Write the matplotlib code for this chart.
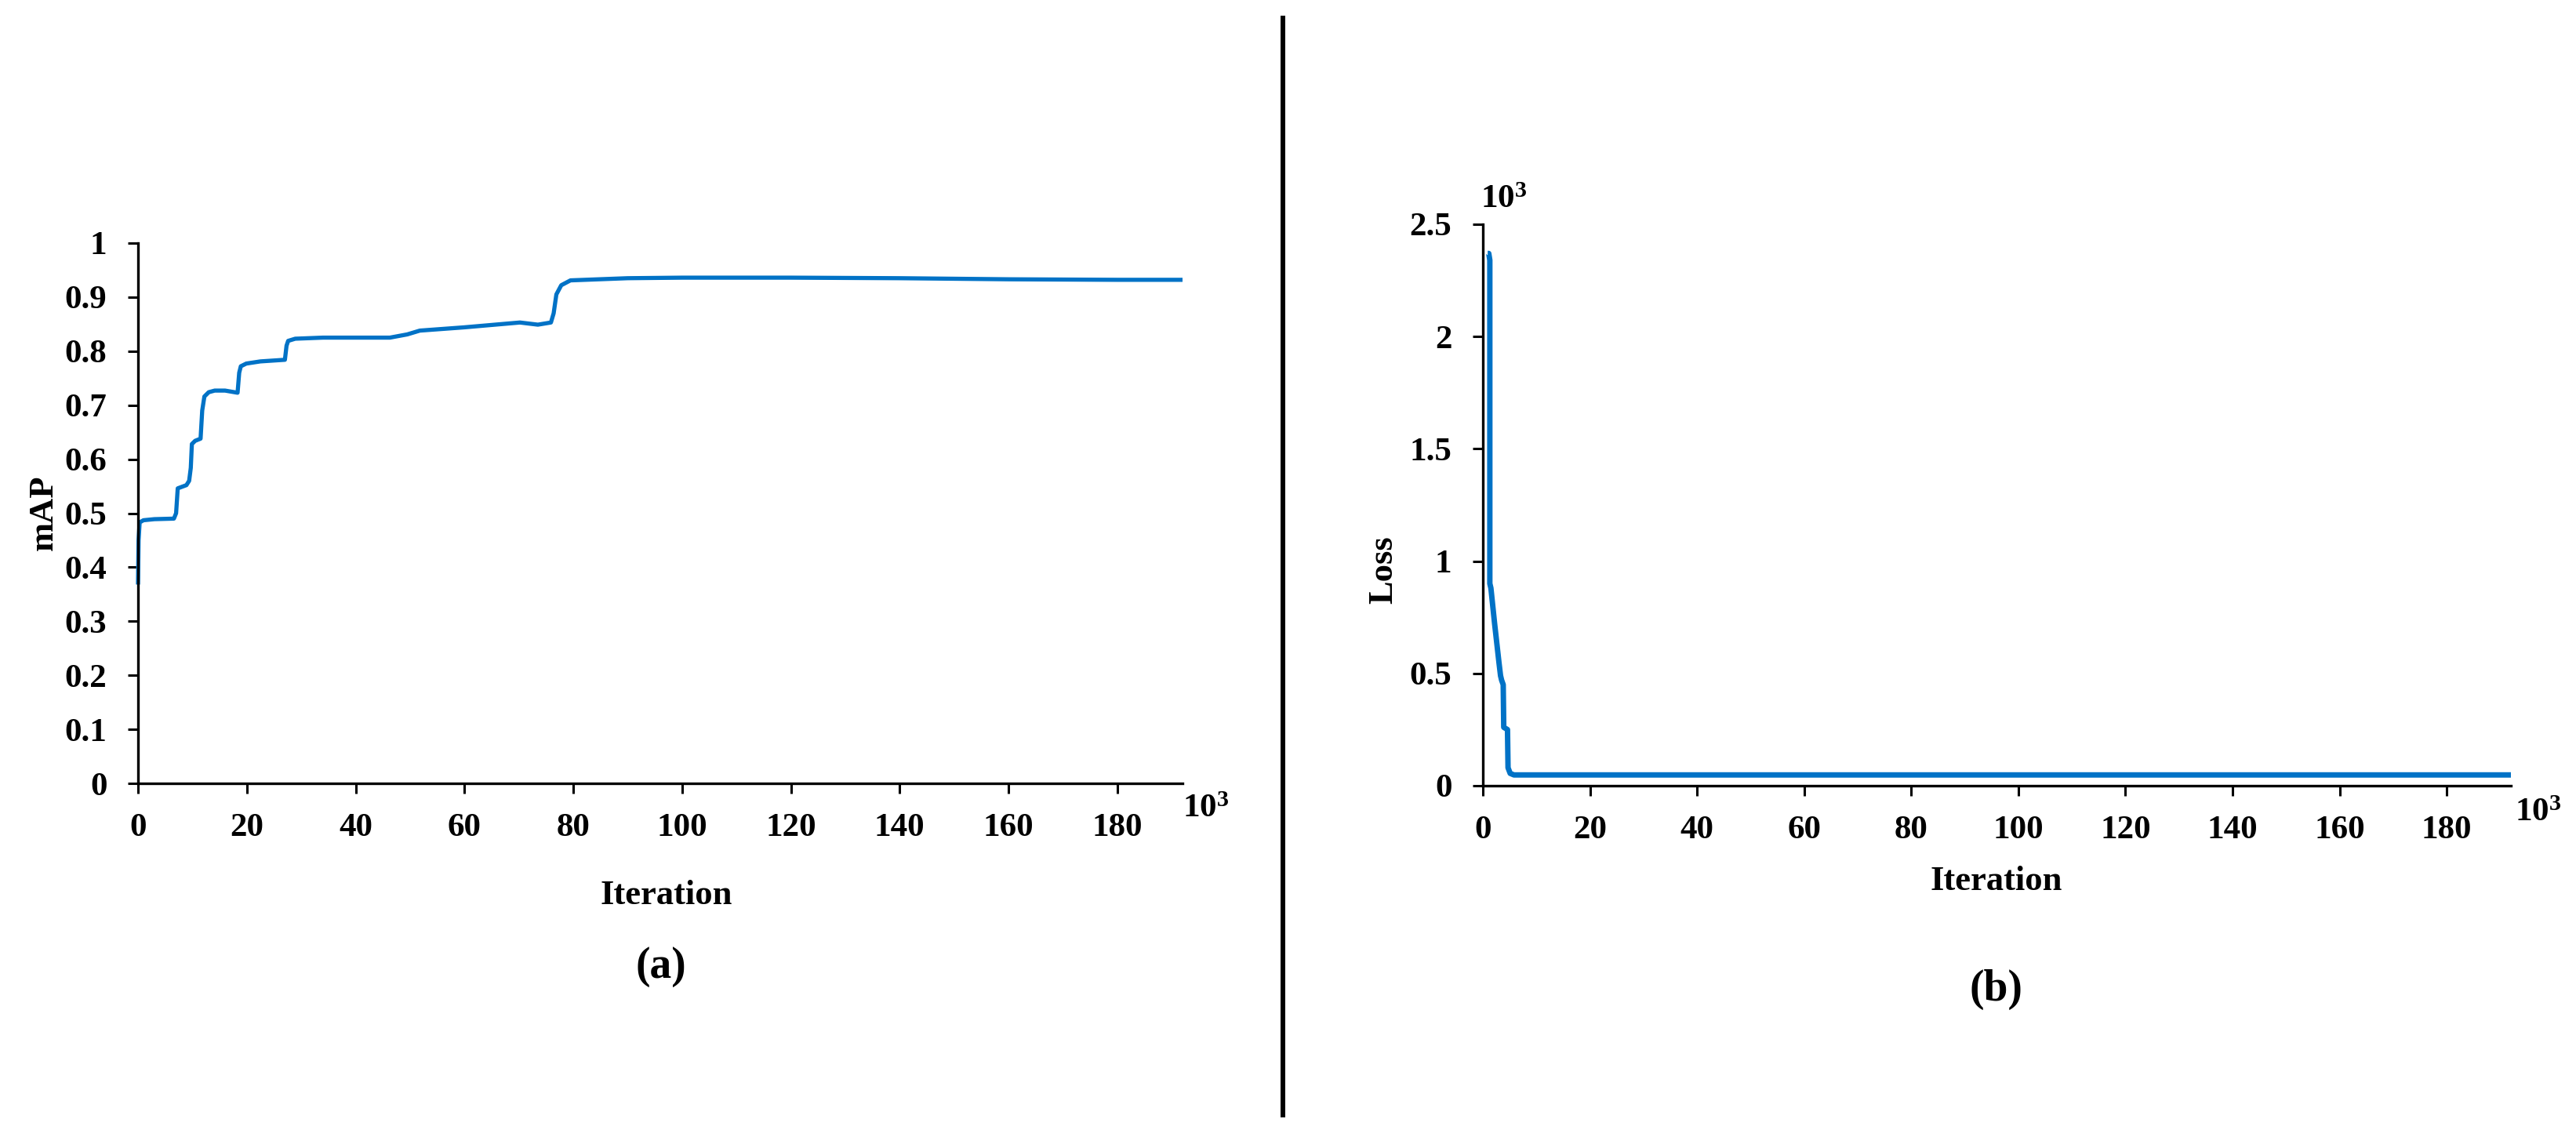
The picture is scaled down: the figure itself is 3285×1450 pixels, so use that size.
import matplotlib
matplotlib.use("Agg")
import matplotlib.pyplot as plt
from matplotlib.lines import Line2D
from matplotlib.ticker import FuncFormatter

# mAP curve, iteration in thousands
map_iter = [0, 0.1, 0.3, 1, 3, 6.6, 7.0, 7.3, 8.9, 9.4, 9.7, 9.9, 10.5, 11.5,
            11.8, 12.2, 13, 14.1, 16, 18.3, 18.6, 18.9, 19.9, 22.5, 27.0, 27.3,
            27.6, 28.9, 34, 46.3, 49.5, 51.8, 59.9, 70.2, 73.5, 75.9, 76.4,
            76.9, 77.8, 79.5, 90, 100, 120, 140, 160, 180, 192]
map_val = [0.368, 0.45, 0.483, 0.487, 0.489, 0.49, 0.50, 0.546, 0.552, 0.56,
           0.584, 0.628, 0.634, 0.638, 0.69, 0.716, 0.724, 0.727, 0.727, 0.723,
           0.76, 0.772, 0.777, 0.781, 0.784, 0.81, 0.819, 0.823, 0.825, 0.825,
           0.831, 0.838, 0.844, 0.853, 0.849, 0.853, 0.87, 0.905, 0.922, 0.931,
           0.935, 0.936, 0.936, 0.935, 0.933, 0.932, 0.932]

# loss curve, iteration and loss both in thousands
loss_iter = [0.9, 1.1, 1.3, 1.3, 1.5, 2.2, 3.0, 3.3, 3.5, 3.8, 3.9, 4.6, 4.7,
             5.1, 5.8, 7, 192]
loss_val = [2.37, 2.37, 2.34, 0.90, 0.88, 0.72, 0.55, 0.49, 0.47, 0.45, 0.26,
            0.25, 0.08, 0.055, 0.048, 0.048, 0.048]

map_ticks = [0, 0.1, 0.2, 0.3, 0.4, 0.5, 0.6, 0.7, 0.8, 0.9, 1]
loss_ticks = [0, 0.5, 1, 1.5, 2, 2.5]
iter_ticks = list(range(0, 181, 20))

BLUE = "#0072C6"
FONT = "Liberation Serif"

plt.rcParams["font.family"] = FONT
plt.rcParams["font.weight"] = "bold"
plt.rcParams["mathtext.fontset"] = "custom"
plt.rcParams["mathtext.rm"] = FONT + ":bold"

W, H = 3285, 1450
fig = plt.figure(figsize=(W / 100, H / 100), dpi=100)


def box(x0, x1, ytop, ybot):
    """Axes rect from pixel coordinates (origin top-left)."""
    return [x0 / W, 1 - ybot / H, (x1 - x0) / W, (ybot - ytop) / H]


def style(ax, yticks):
    for s in ("top", "right"):
        ax.spines[s].set_visible(False)
    for s in ("left", "bottom"):
        ax.spines[s].set_linewidth(2.4)
    ax.set_xlim(0, 192)
    ax.set_ylim(yticks[0], yticks[-1])
    ax.set_xticks(iter_ticks)
    ax.set_yticks(yticks)
    ax.yaxis.set_major_formatter(FuncFormatter(lambda v, p: f"{v:g}"))
    ax.tick_params(axis="x", direction="out", length=9.5, width=2.2,
                   pad=18, labelsize=31)
    ax.tick_params(axis="y", direction="out", length=9.5, width=2.2,
                   pad=19, labelsize=31)
    for lab in ax.get_xticklabels() + ax.get_yticklabels():
        lab.set_fontweight("bold")


ax1 = fig.add_axes(box(176, 1508, 310, 999))
ax1.plot(map_iter, map_val, color=BLUE, lw=3.8, solid_joinstyle="round",
         solid_capstyle="butt", clip_on=False)
style(ax1, map_ticks)

ax2 = fig.add_axes(box(1891, 3202, 286, 1002))
ax2.plot(loss_iter, loss_val, color=BLUE, lw=5, solid_joinstyle="round",
         solid_capstyle="butt", clip_on=False)
style(ax2, loss_ticks)


def ftext(x, y, s, size=32, **kw):
    fig.text(x / W, 1 - y / H, s, fontsize=size, fontweight="bold",
             family=FONT, **kw)


ftext(56, 654, "mAP", rotation=90, ha="center", va="center")
ftext(1764, 727, "Loss", rotation=90, ha="center", va="center")
ftext(850, 1142, "Iteration", ha="center", va="center")
ftext(2546, 1124, "Iteration", ha="center", va="center")
ftext(843, 1233, "(a)", size=40, ha="center", va="center")
ftext(2546, 1262, "(b)", size=40, ha="center", va="center")

ftext(1508, 1042, r"$\mathregular{10^3}$", size=31, ha="left", va="baseline")
ftext(3207, 1047, r"$\mathregular{10^3}$", size=31, ha="left", va="baseline")
ftext(1888, 265, r"$\mathregular{10^3}$", size=31, ha="left", va="baseline")

# divider between the two panels
fig.add_artist(Line2D([1636 / W, 1636 / W], [1 - 23 / H, 1 - 1422 / H],
                      color="black", lw=4.3, transform=fig.transFigure))

fig.savefig("out.png", dpi=100, facecolor="white")
